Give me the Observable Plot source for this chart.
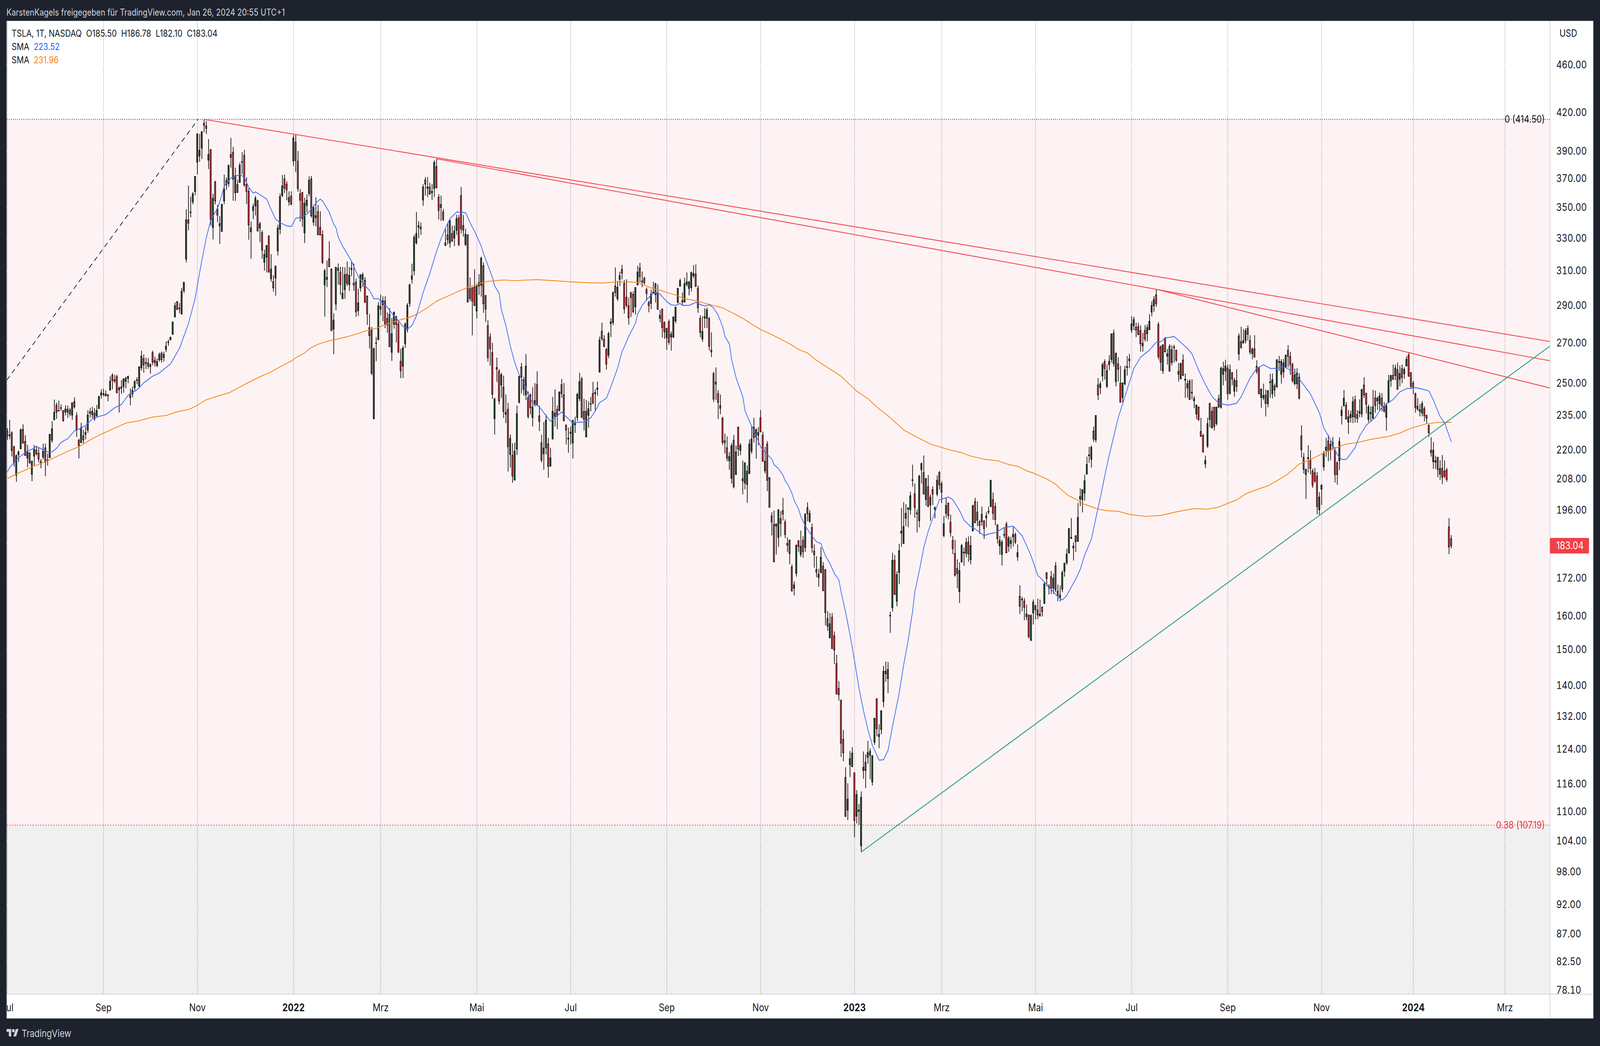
<!DOCTYPE html>
<html lang="de">
<head>
<meta charset="utf-8">
<title>TSLA, 1T, NASDAQ</title>
<script src="https://cdn.jsdelivr.net/npm/d3@7"></script>
<script src="https://cdn.jsdelivr.net/npm/@observablehq/plot@0.6"></script>
<style>
html,body{margin:0;padding:0;width:100%;height:100%;background:#1e222d;overflow:hidden;font-family:Inter,sans-serif}
#stage{position:absolute;left:0;top:0;width:4950px;height:2678px;transform-origin:0 0}
#head{position:absolute;left:20px;top:17px;font-size:23.8px;line-height:30px;color:#d1d4dc;white-space:nowrap}
#panel{position:absolute;left:20px;top:53px;width:4908px;height:2553px;border:1.5px solid #9598a1}
#panel svg{display:block}
#legend{position:absolute;left:36px;top:68px;font-size:24.4px;line-height:34px;color:#131722;white-space:pre}
#foot{position:absolute;left:20px;top:2628px;height:34px;display:flex;align-items:center;gap:9px;color:#d1d4dc;font-size:26px}
</style>
</head>
<body>
<div id="stage">
<div id="head">KarstenKagels freigegeben für TradingView.com, Jan 26, 2024 20:55 UTC+1</div>
<div id="panel"></div>
<div id="legend">TSLA, 1T, NASDAQ  O185.50  H186.78  L182.10  C183.04
SMA  <span style="color:#2962ff">223.52</span>
SMA  <span style="color:#f77f14">231.96</span></div>
<div id="foot"><svg width="38" height="30" viewBox="0 0 36 28" fill="#d1d4dc"><path d="M14 22H7V11H0V4h14v18zM28 22h-8l7.5-18h8L28 22z"/><circle cx="20" cy="8" r="4"/></svg><span>TradingView</span></div>
</div>
<script>
// Daily bars as [open, high, low, close], in trading-day order. Day 0 is 1 Jul 2021.
const bars2021 = [
[227.9,229.3,224.2,225.9],[226,233,224.5,226.3],[227.2,227.9,217.2,219.7],[221.2,221.7,213,214.8],[209.5,218,206.9,217.5],
[217.9,219.7,214.9,219],[220.4,229.1,220.4,228.6],[228.7,231,222.7,222.8],[223.5,226.2,217.5,217.6],[216.5,222,212.7,219.2],
[218.6,219,214.1,214.6],[209.9,215.5,207.1,215.2],[217.3,222,213.5,220.1],[219.8,221.4,217.6,218.3],[218.5,220.7,214.8,216.1],
[215.1,216.1,212.3,214.2],[217,222.6,216,219.3],[220.8,222.6,209.1,214.8],[215.4,218.4,213.4,215.7],[216.7,226.7,216.5,226.6],
[224,232.4,223,229],[233,242.2,232.8,236.3],[239.6,240.8,233.4,236.4],[237.2,241.7,236.7,237],[238.2,240,237,238.4],
[237.1,237.2,232.2,232.6],[236.5,239.6,235,237.8],[237.8,239.4,233.8,236.5],[237.3,238.3,234.5,235.7],[235.1,240.9,233,240.7],
[241.3,243.3,238,238.8],[234.8,236.3,225.5,228.5],[224,224.7,216.4,221.7],[223,231.7,222.9,229.5],[225.9,228.6,222.7,224.2],
[227.4,230,224.4,226.6],[228.5,237.3,227.2,235.1],[236.6,238.3,233.9,236],[235.3,238.9,233.8,236.8],[235.9,238.3,232.5,233.5],
[234.8,239.7,233.9,237.2],[238.1,243.8,237.9,243.7],[244.3,247,242.6,245.3],[244.6,247.3,243.7,244.9],[244.8,246.5,243.7,243.9],
[244.5,244.6,241.4,244],[246.6,253.3,246.6,250.9],[253.8,254.7,247,251.2],[251.6,254,250.1,251],[253.1,254,245,245.5],
[246.8,248.4,236.2,247.6],[247.5,251.4,244.8,248.1],[248.3,252.2,245.4,252],[250.8,253,247.5,252.3],[252.3,253.6,249.9,253.1],
[244.8,247.4,239.5,243.2],[244.9,248.3,243.2,246.5],[247.8,251.3,246.5,250.7],[251.2,252.8,249.4,251.5],[248.6,258,247.6,257.9],
[257.4,266,256,263.2],[261.9,264,255,258.8],[259.6,262.5,256.8,260],[259.8,262.3,256.9,258.3],[259,259.6,254.5,258],
[265,266,258.7,260.2],[261.2,263,258,260],[258.5,262,257.7,260.5],[261.4,265,260.5,264],[264.7,265.5,260,261.4],
[262.6,265.5,260.5,264.1],[266.7,270.8,265.3,268.3],[270.2,271.7,268.5,270.5],[271.7,273.3,271.2,272.8],[274.5,281.2,274.2,281],
[283.7,291.7,283.7,289.9],[292.2,292.5,287.4,287.9],[288.3,291.5,285.8,288.6],[285.3,300,285.3,298.1],[298.4,303.4,297,303.2],
[317,348.7,315,341.8],[341.7,365,335,339.6],[346.6,357.3,343.4,346.9],[353.8,360.5,352,359.2],[360.9,371.5,358.2,371.4],
[381.8,403,372.9,403],[386.2,403,382,390.5],[392,405,384,404.6],[411.2,414.5,404.2,409.6],[409.1,413,402.8,407.3],
[383.2,399,376.7,387.4],[391.1,391.3,338,341.7],[336.8,359.3,329.2,356.2],[367.5,368.3,352.1,354.4],[349.1,351.7,340.2,344.9],
[339.3,344.3,326.4,337.8],[334.3,352.2,334,352.1],[354.4,372.7,352.2,362.3],[368.7,370.7,361.9,365.5],[366.4,379.7,364,379.5],
[387.3,399.9,377.7,385.3],[389,393.1,354.5,369.5],[359.9,377.7,354.4,371.9],[365.6,369,360,360.2],[367.2,381.4,367.1,379.5],
[381.8,389,372.9,382.1],[386.8,390.8,364.1,365.4],[365.6,370.9,352.4,361],[361,363.2,329,338.4],[334.1,340.7,317.2,336.6],
[348,352.6,342.2,350.6],[351,357.8,344.6,356.3],[354.4,355.3,334.3,334.5],[336.4,340.5,327.6,339.2],[333.5,335,317.2,322.6],
[315.1,322.8,310.1,319.8],[318.2,325.5,309,325.4],[331.4,331.5,309,309.2],[305.3,320,303.5,310.9],[303.6,307.4,297.9,300],
[305.7,313,295.5,312.8],[322,338.5,319.2,336.4],[335.8,359.6,332.5,357.3],[358,372.4,357,364.7],[369.7,372.9,359.8,363.2],
[366,368,354.9,362.1],[353.8,361,351.1,356.7],[357.7,361,351.5,352.2]
];
const bars2022 = [
[382.6,402,378.9,399.8],[396.5,402.5,374.5,383],[382.3,390,360.7,362.9],[359.2,362.5,340.5,354.9],[360.2,360.4,337.2,342.5],
[333.4,356.7,327,352.8],[351.3,358.9,346.6,354.9],[359.5,371.5,357.6,368.7],[369.6,371.8,343.2,344.5],[340.2,351.7,338,349.8],
[343.2,356.9,337.6,344.5],[347.1,351.7,332,332.1],[336.8,347.4,331.7,332],[332.2,335,314,315],[301.7,311.1,283.9,310],
[304.9,316.1,300.4,306.1],[317.2,328.1,312.3,312.4],[310.9,311.5,276.2,276.4],[277.2,285.7,264.2,282],[290.8,312.4,287.4,312],
[311.5,314.4,301.9,310.2],[309.2,312.3,296,301.9],[293.8,312.3,293.6,297],[299,312.1,293.8,307.7],[307.9,315.6,301,302.5],
[301.9,312.3,298.2,307.3],[311.5,315.6,306.8,310.7],[302.7,314.4,298.3,301.7],[303.3,305.3,283.8,286.5],[287.2,299.6,284.4,291.5],
[300,307.9,297.9,307.6],[304.9,308.9,300.5,307.7],[304.4,306.2,291.4,291.9],[295.3,295.6,279.4,285.5],[278,285.5,267.1,273.8],
[276.7,278.4,253.8,254.7],[233.4,267.6,233.3,267],[269.8,273,260.7,270],[271.6,292,271.5,289.9],[289.6,296.1,284.6,288],
[290.5,295.2,281.5,292.8],[292.5,295.2,277.7,279.9],[282.9,286.2,275.2,279.5],[285.1,288.6,268,268],[265.2,283.2,260.8,274.7],
[279.9,286.7,277.5,286.2],[283.8,284.4,270.2,279.6],[279.9,281.3,264.9,265.2],[260.6,267,252.3,255.9],[258.2,268.5,252.4,267.3],
[269.5,280.8,267.4,279.9],[277,291.4,275.4,290.2],[291.2,302.5,289.3,301.7],[305,314.2,302.5,307],[310,332,307.3,330.5],
[327,347,326,333],[337,341,330,338],[337,340,332,336],[355,366,351,364],[369,371,358,366],
[363,371,357,364],[364,367,359,359],[360,366,355,361],[363,383,357,381.5],[378.5,384.3,363,363.5],
[357,359,342,348],[350,358,341,352],[347,349,341,342],[327,336,325,325.5],[332,340,326,329],
[327,342,324,341],[333,338,328,328],[330,338,325,334.5],[335,345,332,342.5],[343,345,325,326],
[358,364,333,336],[338,345,331,335],[326,336,325,332.5],[332,332.5,291.7,292],[299.5,306,292.5,294],
[300,300.5,274,292.5],[300.5,311,290,290],[287,302,283,301],[301,308,296,303],[301.5,318.5,295,317.5],
[313,315,286,291],[295.5,296,281,288],[279,282,260.5,262.5],[273,275,258.5,267],[265,270,242.5,244.7],
[233.5,243,226.5,242.5],[257.5,262.5,250.5,256.7],[255.7,256.8,240,241.6],[249,255,243,254],[248,253.6,233.8,236.7],
[235.5,244.6,231.5,236.3],[237.7,240.7,211,221.3],[218,226.5,212.6,224.8],[217.7,222.7,206.5,209.2],[207.6,223,207.4,219.4],
[220.3,239.4,217.8,235.7],[241,253.6,240.4,253],[257.8,259.8,245,252.9],[251.5,253,244,247],[244.4,264.3,242,258.2],
[243,246,233.5,234.5],[244.4,245,235.4,238.4],[234,248,230,238.7],[240,250,239,241.7],[249.2,255.7,239.4,239.7],
[234.7,239.4,228,232.3],[223,226.4,214.7,215.6],[218.3,232,211.7,220.7],[220.8,235.4,218,232.8],[222.5,225,208.5,213],
[213.2,220.8,213,216.6],[224.6,243.4,224.4,236.8],[234.5,247,230,236],[237.7,239.4,228.8,235],[237.2,246,236.8,245.7],
[249.2,252,243,245],[244.4,250,232.3,232.6],[230.5,231,222.2,228.5],[225,229.5,218.7,224.5],[227,230,222.2,227.5],
[222.9,233,216.3,232.7],[230.8,234.4,227.2,231.7],[234,245.4,232.4,244.6],[242.6,255,241.4,250.6],[252,253,233.7,234.2],
[236.7,242.6,228.3,233.2],[225.5,242,225.3,236.8],[235,241.4,229.5,238],[240,243.4,236.8,240.3],[245,250.6,240,240.7],
[245,247,236.8,245.5],[247,250.7,244,247.6],[255.3,273.3,255,271.5],[276,280.6,271,272.2],[272,274,267.7,268.2],
[266.6,267.5,256.5,259.2],[263.7,275.8,262.2,274.9],[280.2,283,273,281],[280.7,298,279.3,297.2],[301,312,295,297.4],
[293.8,304,292.6,300.4],[305,309.5,301,307],[310.8,313.6,305,308.6],[302.6,304.6,285.6,288.2],[294.7,305,289,290.2],
[290,294.4,279.6,283.3],[297.2,297.8,283.7,294.5],[296.3,298,286,286.5],[289.3,300.4,285,300.2],[301.7,313,301.4,309.2],
[311.6,314.8,303.2,306.6],[303.5,309.5,300.4,304],[305.6,306.5,302,303],[299,300.2,292.7,296.8],[291.7,292.7,286.3,290],
[291.3,299,288,296.3],[297,303.6,296.8,297.5],[302.3,303,291.7,296.2],[297.2,302,287.6,288],[283,287.6,280.8,284.6],
[288,288.4,272.7,278],[280.7,281.4,272,275.8],[272.7,278,266.4,277.5],[281.2,282.4,269,270.3],[273,276,266,274.5],
[273,284,272.6,283.7],[281.6,289.3,280.3,289.1],[291.7,300,291.3,299.6],[301,305.4,300.8,304.2],[292.7,297.4,290.4,292],
[292,305.9,291.7,302.4],[302,309,300.8,303.5],[299.7,304,295.7,303.3],[300.2,309.6,298,308.9],[307,313.4,305.6,308.4],
[308,313.8,300.6,300.8],[299.8,301.4,286,288.8],[283,284.6,272.9,275.5],[272,284.2,270.5,276],[283.8,288.5,277.8,283.2],
[283,288.9,277.8,287.6],[282.9,283.7,266.1,268.3],[266.2,275.5,262.8,265.4],[254.6,255.4,241,242.4],[250.5,257.6,242,249.5],
[245,246.6,233.3,240.9],[239.4,244.6,235.5,238.2],[233.7,234.4,222,223.1],[223.8,226.9,218.4,223],[220.8,225.8,215.2,216.5],
[215.4,219,211.7,217.1],[208.3,222.8,206.2,221.7],[224,226.3,204.3,205],[209.8,221.8,209.6,219.1],[229.7,230,217.4,220.3],
[219.7,222.8,217.8,221.9],[208.1,215.5,202,207.3],[206.4,214.8,203.9,214.5],[205.8,213.5,198.7,211.1],[210.2,224.4,210,222.4],
[219.4,230.4,218.3,224.6],[229.7,233.8,223,225.2],[225.5,229.2,216.3,228.6],[226.2,229.8,221.9,227.4],[233.9,237.4,227.4,227.8],
[226.2,227.8,215,215.2],[211.3,221.2,210.2,215.2],[222.4,223.7,203.2,207.5],[208.6,208.7,197,197],[193.8,195.2,186.7,191.5],
[190.7,195.8,177.3,177.5],[190,191,180,190.8],[186,196.4,182.6,196],[192.8,195.6,186.3,191],[195.8,200.6,192.1,194.5],
[191.5,192.5,185.7,187],[183.8,186,180.9,183.2],[185,185.2,176.7,180.3],[175.7,176.6,167.6,167.9],[168.7,170.9,166.4,169.8],
[173.6,183.4,172.5,183.2],[184.8,185,180.9,182.8],[180,188.4,179.1,182.9],[184.9,186.4,178.9,180.9],[182.4,194.7,180.9,194.5],
[196.9,198.9,191.8,194.7],[191.8,196,191.3,194.7],[189.5,191,180.6,182.4],[181.1,183.5,175.5,179.9],[174.9,179.4,172.3,174],
[172.2,175.1,169.2,173.4],[173.9,182.5,173.6,179],[176,177.4,167.8,167.9],[174.8,175,157.1,161],[159.2,161.5,155.5,156.9],
[153.4,160.9,153.3,157.6],[159.6,160.9,150.2,150.3],[154,155.3,145.9,149.9],[146,148.5,137.6,137.8],[139.2,141.2,136,137.6],
[136,136.4,122.1,125.4],[126.3,128.6,121.1,123.1],[117.4,119.7,108.8,109],[110.3,116.1,108.2,112.6],[120.3,123.5,117.5,121.7],
[119.9,124.4,119.7,123]
];
const bars2023 = [
[118.4,118.6,104.7,108.1],[109,114.6,107.5,113.6],[110,111.6,107.2,110.3],[103,114.3,101.81,113],[119,123.4,117.1,119.7],
[120.9,122.7,115,119],[122,125.9,120.5,123.1],[122.5,124.1,117,123.4],[116.4,122.5,115.6,122.4],[125.6,131.6,125,131.5],
[136.5,136.6,127,128.9],[127,130,124.2,127.5],[128.7,133.5,127.5,133.4],[135.8,145.4,134.3,143.9],[143.2,146.6,141,143.9],
[141.9,146.5,138,144.4],[160,161.3,154.9,160.2],[162.5,180.6,161.3,178],[178,179.8,166.6,166.7],[164.6,174.3,163,173.2],
[173.9,183.7,170,181.3],[187.5,196.8,182.6,188.2],[183.8,199,183.7,189.9],[192.9,198.2,190,194.8],[196.3,197,189.6,196.8],
[196.1,203,194.3,201.4],[207.4,213.8,205,207.7],[202.2,206.2,193.1,196.9],[194.6,196.2,187.7,194.9],[192,209.7,189.6,209.1],
[211.7,214.7,206.2,214.2],[210.6,217.6,202,202.1],[200,208.3,197.6,208.2],[204.9,209.6,197.2,197.3],[197.9,201.9,192,200.9],
[203.8,205.1,197.9,202.1],[196.3,197.4,192.9,196.8],[202.1,209.4,201.2,207.5],[210.6,211.2,203.8,205.7],[206.1,207.1,198.6,202.8],
[186.7,193.8,186,190.9],[194.8,200.5,193.1,197.7],[198.5,198.9,192.5,193.9],[191.4,194.3,186.2,187.7],[184.9,186.5,180.1,182],
[180.3,185.1,172.5,173],[175.2,178.3,168.7,173.5],[167.6,177.3,164,174.5],[177.4,183.7,177.3,183.1],[180.5,182.4,176.1,180.8],
[180.4,185.8,179,184.2],[184.3,186.3,177.4,180.2],[178.2,186.5,176.6,183.1],[188.3,198,188.2,197.6],[199.2,200.6,191.1,191.3],
[195.2,199.2,190,192.2],[191.6,192.3,187.2,190.3],[194.4,197.3,190.2,191.7],[191.9,192.3,185.4,189.2],[193.1,195.2,189.6,193.8],
[195.2,197.3,194.4,195.5],[197.3,207.7,197.2,207.4],[199.9,202.7,192.3,194.8],[197.3,198.8,190.4,192.5],[190.5,190.7,183.8,185.5],
[183,186.5,179.9,184.9],[180,185.1,176.2,184.3],[186.8,189.4,185.7,187],[190.8,191.7,180.5,180.6],[182.9,186.5,180.9,185.8],
[183.8,186.2,182,184.9],[186.2,189.7,182.7,187],[187,187.7,183.6,184.3],[179.2,183.5,177.8,180.6],[166.1,169.7,160.6,163],
[165,166,161.4,165.2],[164.6,165.6,158.7,162.6],[159.8,163.5,158.7,160.6],[160.2,160.5,153.2,153.8],[152.7,160.5,152.5,160.1],
[160.9,165.1,157.4,164.3],[163.2,163.4,158.9,161.9],[161.8,165.4,159,160.3],[160,165.1,159.8,160.6],[162.7,162.9,159.8,161.3],
[163.9,170.8,163.7,170.1],[173.8,174,169.4,171.9],[169,170,166.7,169.3],[172.5,174.4,166.9,168.7],[168.8,173.5,166.9,172],
[176.1,177.4,167.4,168.2],[167.7,169.9,164.6,166.5],[165.7,169.6,164.5,166.5],[168.4,174.5,167.4,173.9],[174.3,177.1,172.5,177],
[177.2,182,176.5,180.1],[180.6,189.4,180.2,189.1],[186,193,185.4,185.7],[182.2,184.2,177.9,182.9],[186.5,186.8,180.8,184.4],
[184.6,198.7,184.4,193.2],[200.2,204.3,197.5,201.1],[199.9,203.9,195.1,203.8],[202.5,209.7,199.5,207.3],[210,217.1,209.8,213.8],
[217.5,221.2,214.6,217.8],[216,221.8,212.6,221],[228,230,223.3,224.6],[224.2,235,223.1,234.9],[249,252.4,242,244.4],
[247.8,250.8,244.7,249.6],[253.4,260,250.8,259],[260.4,261.6,251.6,257],[248.4,259,247.6,256],[259,263.7,256.2,260.6],
[261.5,275,260,274.6],[275,276.9,257.9,259.5],[250.7,265.1,248.4,264.6],[259.4,262.6,250.7,256.7],[250,258.4,240.8,241],
[243.2,250.2,240.8,250],[249.6,258.5,249,256.4],[257.5,263.2,253.6,258],[260.9,264.4,257.2,261.8],[276.7,284.1,275.2,280],
[279,283.9,276.7,282.3],[278.2,280.6,273,276.7],[278.5,280.6,274,274.4],[276.5,279.2,265.5,269.5],[268.5,275.2,265.5,269.7],
[276.4,279.4,270.7,272],[274.7,279.7,270.7,278],[276.9,285.3,276.7,281.4],[286.4,292.3,284.1,290],[289.9,295.3,286.6,293.3],
[296,299.3,289.3,291],[279.7,281,261.6,262.9],[267.9,268.8,256,260.2],[255.9,269.3,254.4,268.9],[272.5,273,265.1,265.4],
[263.2,266.9,259,264.4],[268.3,269.3,255.5,255.8],[260,268.8,258.6,266.5],[267.5,269,260,267.9],[266.2,266.5,260.4,261.2],
[255.6,259.7,250.7,254.2],[252,260,251.8,259.5],[261.2,264.1,253.4,253.7],[251.4,254.6,243,251.8],[247.6,251.6,243,249.7],
[250.9,251.8,241.9,242.3],[245.3,251.8,242.3,245.6],[241.6,243.8,238.2,242.6],[235.6,239.8,233.3,239.7],[238.8,238.9,232.7,232.9],
[227.8,233.9,225.5,225.7],[226.1,226.8,218.8,219.1],[214.1,217.5,212.4,215.5],[221.5,233.9,220.7,231.3],[240.3,240.8,229.6,233.1],
[229.4,238.8,229.2,236.8],[238.7,238.9,228.2,230],[231.3,238.9,230.4,238.7],[242.6,244.5,238.4,238.8],[238.7,257.9,238,257.2],
[254.2,260.4,248.9,257],[255.8,261.4,251,258.3],[257.3,259,242.1,244.9],[245.1,259,244.5,256.5],[255,255.3,248.9,251.9],
[246.1,252.5,243.5,251.4],[251.1,256.7,245.8,248.4],[264.3,275,261.1,273.6],[270.6,278.5,266.9,267.7],[269.9,277.2,269.7,271.1],
[271.2,277.7,269.7,276.4],[277.6,279.2,271.2,274.5],[271.2,274,264,265.3],[264.6,267.6,261.6,266.7],[267,274,262.6,262.7],
[258.1,261.1,254.4,255.7],[257.5,257.6,244.7,244.9],[243.2,247.4,238.4,247.1],[243,249.7,241.9,244.1],[244.3,246.9,234.5,240.4],
[240.3,246.5,238.7,246.4],[250.2,254.5,243,250.6],[244.9,254.6,242.8,251.6],[248.6,249.7,243.6,246.7],[248.2,261.8,247.6,261.3],
[260,263.4,255.8,260.5],[254.1,261.8,249.7,260.6],[255.3,261.8,252.5,259.8],[257.9,263.8,257.6,263.7],[266.2,268.8,257.6,263.2],
[263,265.4,253.9,259],[259,260,250.2,251.1],[249.7,257,248.9,253.9],[249.7,257.2,247.1,254.8],[252.8,254.8,242.3,242.8],
[225.9,230.5,216.8,220],[216.8,218.7,210.2,211.9],[209.8,212.1,200.2,211.9],[216.3,221.9,210.6,216.7],[215.8,219.8,209.8,212.3],
[211.2,212.1,204.5,205.5],[210.5,212.5,206.4,207.2],[209.2,210.8,194.4,197.3],[196.1,202.8,194,200.9],[204,205.8,197.9,205.6],
[212.9,219.5,211.3,218.5],[219.8,225,217,221.1],[223.7,226.4,215.2,219.3],[219.8,223.9,215.6,222.3],[223.1,225.5,219.8,221.9],
[219.7,221.1,206.6,209.8],[214.5,215.2,205.7,209.8],[215.4,225.3,211.6,223.5],[234.8,239.1,230.9,237.3],[239.3,246.7,239.1,242.8],
[239.5,241,233.1,233.3],[231.9,237.4,226.8,234.3],[233.9,237.1,231.7,235.3],[234.3,243.6,231.5,241.2],[242.1,244.1,231.7,234.1],
[235.3,237.4,231.7,233.5],[236,242.3,234.1,236.7],[235.6,247.1,234.1,246.9],[249,252.8,242.9,244.3],[245.1,245.4,235.8,240.1],
[233.1,239.9,231.9,238.8],[235.8,239.1,232.5,236.2],[233.7,246.7,233.4,238.8],[243,246.4,236.2,239.4],[241.6,243.6,237.5,242.8],
[240.3,245.4,237.1,243.9],[242.8,245.2,236.8,239.5],[238.8,241,236.2,236.9],[234.1,240.6,228.1,239.3],[241,253.9,240.9,251.1],
[251.1,253.9,248.2,253.6],[253.7,259,251.6,251.8],[253.6,259,251.4,257.3],[256.5,260,246.8,247],[251.8,258.5,248.4,254.6],
[257,259,249.9,252.7],[254.5,257.6,252,256.6],[258.3,263.2,258.1,261.6],[263.7,265.3,253,253.3],[255,255.3,247.1,248.4]
];
const bars2024 = [
[250,251.1,244.7,248.2],[244.9,245.4,236.2,238.4],[239.1,242.8,237.1,237.8],[236.8,240.1,234.5,237.5],[236,241.5,234.5,240.3],
[238,239.1,232.3,234.8],[234.9,235.3,231.3,233.7],[230.6,230.8,225.5,227.3],[219.8,225.3,217.1,218.8],[215,223.3,212.1,219.8],
[214.8,217.5,212.1,215.5],[216.8,217,208.7,211.8],[210,215.6,207.6,212.2],[212.3,217.8,206,208.7],[211.2,215.6,208.3,209.1],
[211.6,212.5,206.9,207.8],[189.7,193,180.1,182.6],[185.5,186.78,182.1,183.04]
];
// 20-day SMA and 200-day SMA, read as [trading day, value]
const smaFast = [[0,211],[1,212.7],[3,214.8],[5,216.7],[6,217.5],[9,219.6],[11,220.3],[13,221.5],[15,220.5],[18,219.2],[20,219.2],[22,220.7],[24,223.2],[27,224.8],[30,228.2],[32,228.9],[35,230.6],[38,233.5],[41,234.6],[44,235.4],[48,238.5],[51,240],[54,244.3],[58,246.8],[61,250.2],[65,253.4],[68,255],[73,259.5],[77,267.3],[81,280.3],[84,294.2],[86,309.2],[87,316.4],[89,330.5],[91,341.9],[94,349.6],[95,353.9],[97,364.7],[100,370.5],[104,372.9],[106,371],[108,363.8],[110,359.8],[111,360.7],[116,355.8],[118,348.7],[120,342.3],[122,340],[125,338],[127,337.5],[129,342.9],[132,343.8],[134,345.7],[136,349.1],[138,353.1],[140,355.8],[141,354.4],[144,347],[146,338.9],[147,336.8],[148,330.9],[150,325],[154,315.8],[157,306.6],[160,301.3],[162,298.7],[164,293.9],[166,293.9],[168,291.4],[170,289.3],[172,285.8],[175,281.7],[177,278.7],[179,277.4],[181,279.2],[183,284.5],[186,297.5],[189,308.6],[192,321.9],[194,329.7],[196,336.6],[198,342.7],[201,347.1],[205,346.6],[207,340],[209,334.5],[212,325.1],[213,320.5],[217,306.2],[218,301.2],[220,297],[221,287.8],[223,279.3],[225,268.5],[227,260],[229,254],[231,250.5],[233,244.4],[235,240.9],[238,238.9],[241,234.9],[243,232.4],[246,235],[248,236.6],[250,234.4],[253,231.6],[256,232.1],[258,231.9],[261,234],[263,237],[265,240.9],[268,242.9],[270,248.4],[273,257.3],[275,265.7],[276,268.1],[278,273.5],[281,280.4],[282,285.5],[284,290.2],[286,293.4],[288,296],[290,297.8],[292,296.5],[295,292.3],[297,290.5],[299,290.2],[301,291.3],[302,290.2],[305,290.2],[308,291.9],[310,290.7],[312,289.9],[314,290.5],[316,288.8],[318,284.8],[320,278.6],[321,273.5],[323,269.6],[324,261.7],[326,252.7],[329,243.6],[330,237.2],[332,232.4],[335,226],[337,221.2],[339,219.1],[342,216.1],[343,213.9],[345,212.2],[347,209.6],[348,207.3],[349,206.2],[351,202.5],[352,199.7],[354,196.4],[355,193.6],[357,190.1],[360,186.5],[362,184.5],[364,183.8],[366,179.5],[368,177],[370,173.6],[372,171.5],[373,167.6],[375,161.2],[377,154.3],[379,146.9],[381,139.4],[383,133.5],[385,128.7],[387,124.9],[390,121.4],[392,121.5],[394,123.7],[396,129.6],[397,132.3],[399,138.1],[401,145.8],[403,152.7],[405,161.6],[406,167.7],[408,174.5],[410,182.5],[412,188.3],[414,193],[417,200],[421,201],[423,200],[426,195.9],[428,192.3],[431,189.9],[432,189.6],[434,188.5],[437,186.6],[439,187.3],[442,187.7],[446,189.6],[450,190.1],[451,189.3],[454,186.6],[456,183.1],[458,179.6],[461,173],[464,170.8],[466,169.2],[469,166.7],[472,165],[474,166.5],[476,169.2],[478,171.8],[480,175],[482,179.9],[485,185.5],[487,193.1],[489,200.8],[491,209.5],[493,218],[497,234],[501,247.1],[504,257.2],[507,262.8],[511,266.4],[514,270.4],[516,270.7],[518,272.6],[522,273.4],[528,267.2],[530,264.4],[533,256.2],[536,249.4],[539,243.6],[542,240.6],[546,239.7],[550,240.6],[552,243.6],[556,252.5],[559,257.2],[562,259],[565,257.2],[568,257.2],[571,258.1],[575,255.8],[578,252],[583,244.9],[587,236.2],[589,229.4],[592,224.3],[595,218],[597,216],[599,216],[603,221],[605,226],[608,230.7],[612,234.1],[615,238.8],[620,242.3],[623,245.9],[626,247.4],[630,247.9],[633,247.2],[636,246.3],[638,242],[641,234.5],[643,231.7],[646,223.52]];
const smaSlow = [[0,208.3],[5,210.5],[11,212.9],[19,215.9],[26,219],[32,221.4],[38,224.8],[43,227.2],[48,229.4],[53,231.6],[59,232.7],[65,234.3],[71,235],[76,236.7],[81,237.7],[84,239.1],[89,242.2],[94,243.9],[99,245.4],[103,247.6],[107,249.9],[113,253.1],[118,255.5],[123,258.6],[127,260.8],[129,262.5],[133,264.9],[135,267],[139,269.4],[144,271.2],[147,271.9],[152,273.3],[157,275],[161,276.6],[165,277.7],[169,279.7],[175,282],[180,283.7],[183,285.2],[188,289],[192,292.6],[197,295.4],[202,298.2],[206,300.4],[210,302.1],[214,303.7],[218,304.3],[222,304.7],[227,304.3],[233,304.7],[237,304.9],[243,304.4],[252,303.6],[260,303.1],[266,302.9],[272,303.5],[277,303.7],[282,303.2],[285,301.7],[289,299.6],[292,298.7],[295,297.5],[299,296],[303,293.9],[308,292.9],[313,291.1],[320,288.8],[325,285.7],[329,283.1],[333,280],[337,277.1],[342,274.4],[346,272],[350,269.6],[354,266.7],[358,264.9],[362,261.2],[373,253.3],[380,246.2],[385,242.7],[389,238.8],[394,234.9],[401,228.6],[405,226.4],[409,224.4],[413,222.5],[416,221.6],[422,219.9],[427,218.8],[431,217.4],[437,216.1],[443,215.5],[448,213.9],[452,213.2],[456,211.4],[460,210.1],[465,208.1],[469,206],[472,203.5],[475,201.4],[478,200.2],[481,198.5],[485,197.3],[488,196.4],[492,195.8],[497,195.6],[502,194.4],[509,193.7],[516,194],[523,195.4],[531,196.6],[537,196.4],[542,197.2],[546,198.6],[550,199.9],[554,202.2],[558,203.6],[564,205.4],[569,207.9],[573,210.2],[578,214.1],[583,216],[588,218.3],[594,220.7],[599,222.5],[605,223.3],[610,224.5],[618,225.8],[623,227.2],[628,229.4],[635,231.3],[640,231.9],[646,231.96]];
// Drawn trend lines, as [start day, start price, end day, end price]
const redTrends = [[88,414.5,690.2,270.8],[192,384.3,690.2,261],[514,299.3,690.2,247.7]];
const tealTrend = [382,101.81,690.2,268.5];
const dashedTrend = [-0.22,251.6,85.3,414.5];
// Fibonacci levels
const fibTop = 414.5, fibLow = 107.19;
const fibTopLabel = "0 (414.50)", fibLowLabel = "0.38 (107.19)";
// Axes
const priceTicks = [460,420,390,370,350,330,310,290,270,250,235,220,208,196,184,172,160,150,140,132,124,116,110,104,98,92,87,82.5,78.1];
const monthTickDays = [0,43,85,167,210,252,295,337,418,460,503,546,588,670];
const monthTickNames = ["Jul","Sep","Nov","Mrz","Mai","Jul","Sep","Nov","Mrz","Mai","Jul","Sep","Nov","Mrz"];
const yearTickDays = [128,379,629];
const yearTickNames = ["2022","2023","2024"];
const lastClose = 183.04;

const candles = [...bars2021,...bars2022,...bars2023,...bars2024].map(([o,h,l,c],i)=>({i,o,h,l,c,up:c>=o}));
const toPts = a => a.map(([i,v])=>({i,v}));
const segs = a => a.flatMap(([a1,b1,a2,b2],k)=>[{k,i:a1,v:b1},{k,i:a2,v:b2}]);

const xMin=-0.217, xMax=690.2, xPanel=709.5, yMin=77.52, yMax=500.2, yPanelBottom=74;
const months=new Map(monthTickDays.map((d,k)=>[d,monthTickNames[k]]));
const years=new Map(yearTickDays.map((d,k)=>[d,yearTickNames[k]]));
const gridColor="#d3d4dd", font=27;

const chart = Plot.plot({
  width:4908, height:2553,
  marginLeft:0, marginRight:134, marginTop:0, marginBottom:62,
  style:{background:"#fff",maxWidth:"none",overflow:"hidden",fontFamily:"Inter, sans-serif",color:"#131722"},
  x:{type:"linear",domain:[xMin,xMax],axis:null},
  y:{type:"log",domain:[yMin,yMax],axis:null},
  marks:[
    Plot.ruleX([...monthTickDays,...yearTickDays],{stroke:gridColor,strokeWidth:2}),
    Plot.ruleY(priceTicks,{x1:xMin,x2:xMax,stroke:"#fff",strokeWidth:2.5}),
    Plot.rect([{a:fibLow,b:fibTop}],{x1:xMin,x2:xMax,y1:"a",y2:"b",fill:"#f23645",fillOpacity:0.06}),
    Plot.rect([{a:yMin,b:fibLow}],{x1:xMin,x2:xMax,y1:"a",y2:"b",fill:"#787878",fillOpacity:0.11}),
    Plot.ruleY([fibTop],{x1:xMin,x2:xMax,stroke:"#131722",strokeWidth:2,strokeDasharray:"2,4.5"}),
    Plot.ruleY([fibLow],{x1:xMin,x2:xMax,stroke:"#f23645",strokeWidth:2,strokeDasharray:"3,5"}),
    Plot.ruleX(candles,{x:"i",y1:"l",y2:"h",stroke:"#000",strokeWidth:2}),
    Plot.rect(candles,{x1:d=>d.i-0.27,x2:d=>d.i+0.27,y1:"o",y2:"c",fill:d=>d.up?"#2b5c38":"#f23d48",stroke:"#000",strokeWidth:1.6}),
    Plot.line(toPts(smaSlow),{x:"i",y:"v",stroke:"#f7891f",strokeWidth:2.2}),
    Plot.line(toPts(smaFast),{x:"i",y:"v",stroke:"#3d6ef5",strokeWidth:2.2}),
    Plot.line(segs(redTrends),{x:"i",y:"v",z:"k",stroke:"#f4525c",strokeWidth:2.4}),
    Plot.line(segs([tealTrend]),{x:"i",y:"v",z:"k",stroke:"#2a9d8f",strokeWidth:2.4}),
    Plot.line(segs([dashedTrend]),{x:"i",y:"v",z:"k",stroke:"#131722",strokeWidth:2,strokeDasharray:"12,12"}),
    Plot.text([fibTopLabel],{x:xMax,y:fibTop,dx:-16,textAnchor:"end",fontSize:font-1,fill:"#131722"}),
    Plot.text([fibLowLabel],{x:xMax,y:fibLow,dx:-16,textAnchor:"end",fontSize:font-1,fill:"#f23645"}),
    Plot.axisY(priceTicks,{anchor:"right",x:xMax,tickSize:0,tickPadding:19,fontSize:font,label:null,tickFormat:d=>d.toFixed(2),fill:"#131722"}),
    Plot.axisX(monthTickDays,{anchor:"bottom",tickSize:0,tickPadding:24,fontSize:font,label:null,tickFormat:d=>months.get(d),fill:"#131722"}),
    Plot.axisX(yearTickDays,{anchor:"bottom",tickSize:0,tickPadding:24,fontSize:font,fontWeight:700,label:null,tickFormat:d=>years.get(d),fill:"#131722"}),
    Plot.rect([{a:yPanelBottom,b:yMin}],{x1:xMax,x2:xPanel,y1:"a",y2:"b",fill:"#fff"}),
    Plot.ruleY([yMin],{x1:xMin,x2:xPanel,stroke:gridColor,strokeWidth:2}),
    Plot.ruleX([xMax],{y1:yPanelBottom,y2:yMax,stroke:gridColor,strokeWidth:2}),
    Plot.rect([{a:180.35,b:185.8}],{x1:xMax,x2:707.7,y1:"a",y2:"b",fill:"#f23f47",rx:3}),
    Plot.text([lastClose.toFixed(2)],{x:xMax,y:lastClose,dx:19,textAnchor:"start",fontSize:font,fill:"#fff"}),
    Plot.text(["USD"],{frameAnchor:"top-right",dx:29,dy:31,lineAnchor:"middle",textAnchor:"start",fontSize:font-1,fill:"#131722"})
  ]
});
document.getElementById("panel").appendChild(chart);
// The window may be narrower than the 4950-wide reference: fit the whole layout to it.
document.getElementById("stage").style.transform=`scale(${innerWidth/4950},${innerHeight/2678})`;
</script>
</body>
</html>
